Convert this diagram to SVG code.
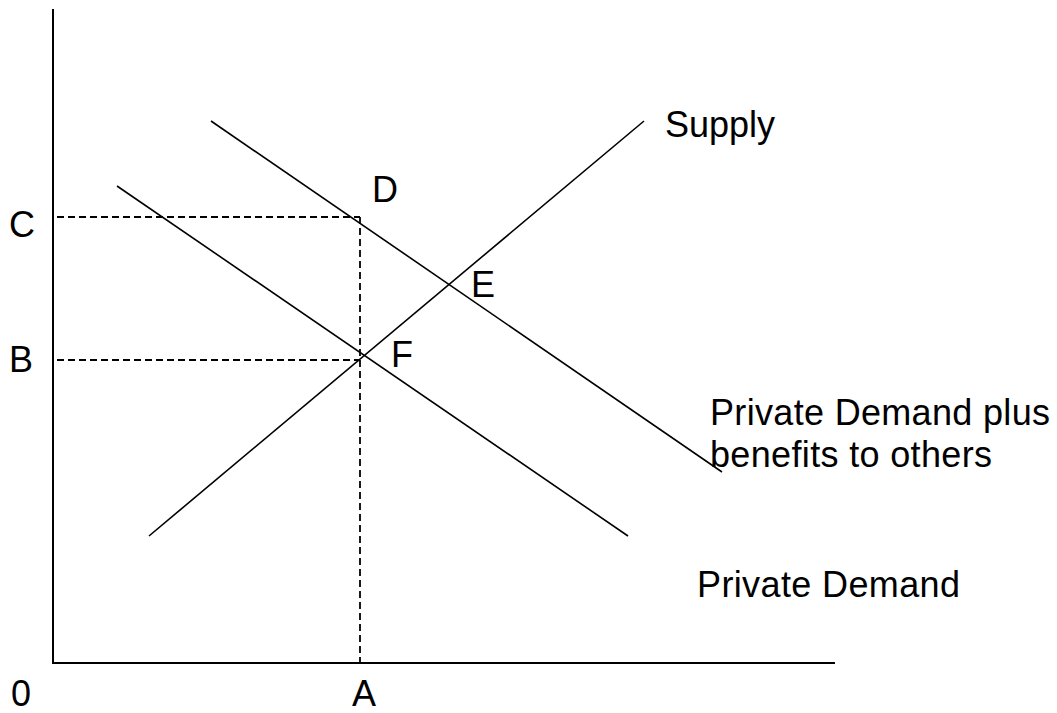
<svg xmlns="http://www.w3.org/2000/svg" width="1057" height="713" viewBox="0 0 1057 713">
<style>
.t{font-family:"Liberation Sans",Arial,sans-serif;font-size:36px;fill:#000}
.ax{stroke:#000;stroke-width:2;fill:none}
.ln{stroke:#000;stroke-width:1.6;fill:none}
.ds{stroke:#000;stroke-width:1.8;fill:none;stroke-dasharray:7 4}
</style>
<rect width="1057" height="713" fill="#fff"/>
<g id="connectors">
<path class="ax" d="M53,9 V663 H835"/>
<line class="ds" x1="57" y1="217" x2="360" y2="217"/>
<line class="ds" x1="57" y1="360" x2="360" y2="360"/>
<line class="ds" x1="360" y1="217" x2="360" y2="663"/>
<line id="supply" class="ln" x1="149" y1="536" x2="644" y2="121"/>
<line id="pdplus" class="ln" x1="211" y1="121" x2="722" y2="472"/>
<line id="pd" class="ln" x1="117" y1="186" x2="628" y2="536"/>
</g>
<g id="labels">
<text class="t" x="11" y="706">0</text>
<text class="t" x="352" y="706">A</text>
<text class="t" x="9" y="237">C</text>
<text class="t" x="9" y="372">B</text>
<text class="t" x="372" y="202">D</text>
<text class="t" x="471" y="297">E</text>
<text class="t" x="391" y="367">F</text>
<text class="t" x="665" y="137">Supply</text>
<text class="t" x="710" y="425" textLength="340">Private Demand plus</text>
<text class="t" x="710" y="467" textLength="282">benefits to others</text>
<text class="t" x="697" y="597" textLength="263">Private Demand</text>
</g>
</svg>
